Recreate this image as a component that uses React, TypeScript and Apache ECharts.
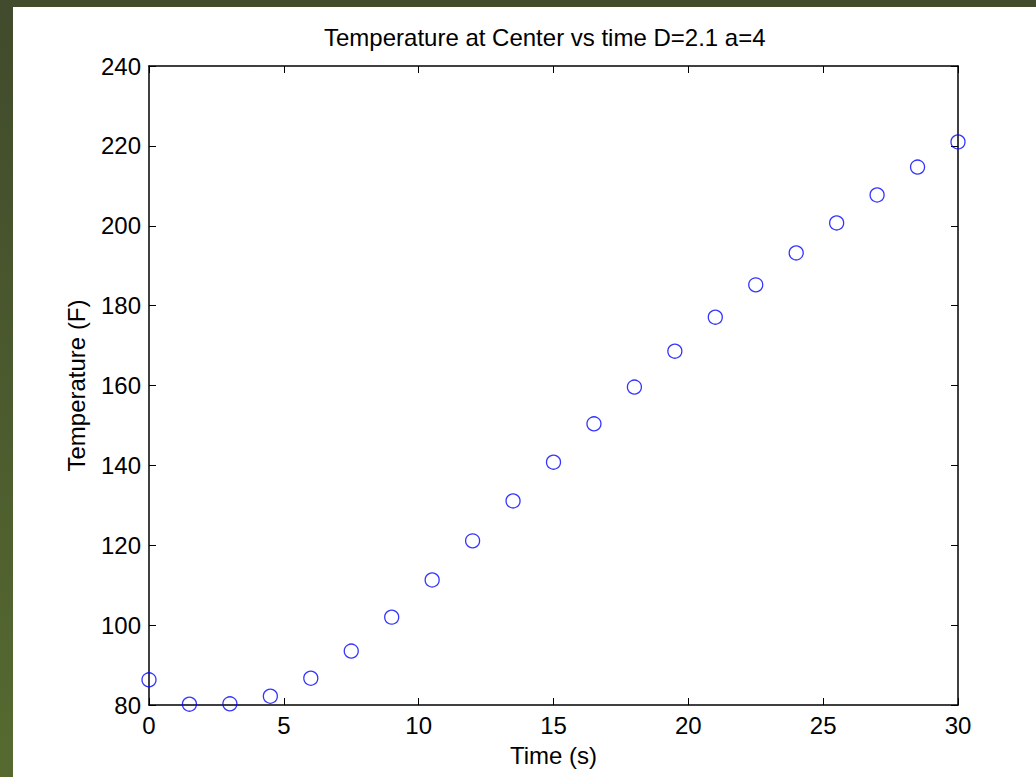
import React, { useEffect, useRef } from "react";
import * as echarts from "echarts";

// Sampling times (s) and centre temperatures (F)
const times: number[] = [0, 1.5, 3, 4.5, 6, 7.5, 9, 10.5, 12, 13.5, 15, 16.5, 18, 19.5, 21, 22.5, 24, 25.5, 27, 28.5, 30];
const temps: number[] = [86.3, 80.2, 80.3, 82.2, 86.7, 93.5, 102.0, 111.3, 121.1, 131.1, 140.8, 150.4, 159.6, 168.6, 177.1, 185.2, 193.2, 200.7, 207.7, 214.7, 221.0];

const titleText = "Temperature at Center vs time D=2.1 a=4";
const xName = "Time (s)";
const yName = "Temperature (F)";

const FONT = "'Liberation Sans', Arial, Helvetica, sans-serif";

export default function App() {
  const ref = useRef<HTMLDivElement>(null);

  useEffect(() => {
    if (!ref.current) return;
    const chart = echarts.init(ref.current, undefined, { renderer: "svg" });

    const points = times.map((t, i) => [t, temps[i]]);
    const tickStyle = { show: true, inside: true, length: 7, lineStyle: { color: "#000", width: 1 } };
    const lineStyle = { show: true, onZero: false, lineStyle: { color: "#000", width: 1.5 } };
    const labelStyle = { color: "#000", fontFamily: FONT, fontSize: 24 };

    chart.setOption({
      animation: false,
      backgroundColor: "#ffffff",
      title: {
        text: titleText,
        left: 319,
        top: 20,
        textStyle: { color: "#000", fontFamily: FONT, fontSize: 24, fontWeight: "normal" },
      },
      grid: { left: 149, top: 66, right: 78, bottom: 72, containLabel: false },
      graphic: [
        {
          type: "rect",
          shape: { x: 0, y: 0, width: 13, height: 777 },
          style: {
            fill: new echarts.graphic.LinearGradient(0, 0, 0, 1, [
              { offset: 0, color: "#414a2c" },
              { offset: 1, color: "#566a30" },
            ]),
          },
          silent: true,
        },
        {
          type: "rect",
          shape: { x: 0, y: 0, width: 1036, height: 7 },
          style: { fill: "#424b2c" },
          silent: true,
        },
      ],
      xAxis: [
        {
          type: "value",
          position: "bottom",
          min: 0,
          max: 30,
          interval: 5,
          name: xName,
          nameLocation: "middle",
          nameGap: 38,
          nameTextStyle: { color: "#000", fontFamily: FONT, fontSize: 24 },
          axisLine: lineStyle,
          axisTick: tickStyle,
          axisLabel: { ...labelStyle, margin: 8 },
          splitLine: { show: false },
        },
        {
          type: "value",
          position: "top",
          min: 0,
          max: 30,
          interval: 5,
          axisLine: lineStyle,
          axisTick: tickStyle,
          axisLabel: { show: false },
          splitLine: { show: false },
        },
      ],
      yAxis: [
        {
          type: "value",
          position: "left",
          min: 80,
          max: 240,
          interval: 20,
          name: yName,
          nameLocation: "middle",
          nameGap: 61,
          nameRotate: 90,
          nameTextStyle: { color: "#000", fontFamily: FONT, fontSize: 24 },
          axisLine: lineStyle,
          axisTick: tickStyle,
          axisLabel: { ...labelStyle, margin: 8 },
          splitLine: { show: false },
        },
        {
          type: "value",
          position: "right",
          min: 80,
          max: 240,
          interval: 20,
          axisLine: lineStyle,
          axisTick: tickStyle,
          axisLabel: { show: false },
          splitLine: { show: false },
        },
      ],
      series: [
        {
          type: "scatter",
          xAxisIndex: 0,
          yAxisIndex: 0,
          data: points,
          symbol: "circle",
          symbolSize: 14,
          clip: false,
          itemStyle: { color: "rgba(0,0,0,0)", borderColor: "#0000ff", borderWidth: 1.3 },
        },
      ],
    });

    return () => chart.dispose();
  }, []);

  return (
    <div
      ref={ref}
      style={{ position: "fixed", left: 0, top: 0, width: 1036, height: 777, background: "#fff" }}
    />
  );
}
